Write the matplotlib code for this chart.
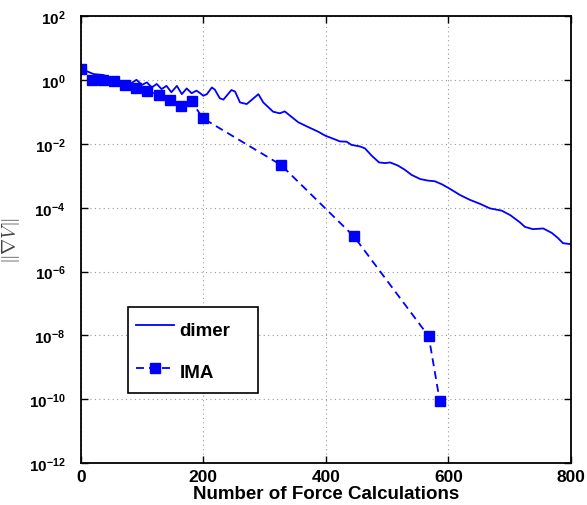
import numpy as np
import matplotlib
matplotlib.use('Agg')
import matplotlib.pyplot as plt
from matplotlib.ticker import FixedLocator, FuncFormatter, NullLocator

plt.rcParams['font.family'] = ['Liberation Sans', 'DejaVu Sans']
plt.rcParams['mathtext.fontset'] = 'custom'
plt.rcParams['mathtext.rm'] = 'Liberation Sans:bold'
plt.rcParams['mathtext.bf'] = 'Liberation Sans:bold'
plt.rcParams['mathtext.it'] = 'Liberation Sans:bold'

# dimer: force calls vs log10(|grad V|)
dimer_x = [1, 21, 37, 53, 70, 83, 91, 100, 108, 116, 124, 132, 140, 148, 157, 165,
           173, 181, 189, 195, 200, 206, 214, 219, 227, 233, 246, 252, 260, 271,
           279, 290, 298, 314, 325, 333, 342, 355, 369, 388, 399, 410, 423, 434,
           442, 456, 464, 475, 487, 497, 505, 518, 529, 540, 554, 567, 578, 589,
           602, 619, 635, 652, 668, 687, 701, 717, 725, 738, 755, 769, 779, 787, 800]
dimer_log = [0.35, 0.19, 0.16, 0.03, -0.05, -0.09, 0.01, -0.15, -0.07, -0.23, -0.12,
             -0.28, -0.18, -0.38, -0.18, -0.44, -0.26, -0.41, -0.33, -0.41, -0.49,
             -0.44, -0.23, -0.30, -0.57, -0.61, -0.31, -0.36, -0.70, -0.75, -0.62,
             -0.44, -0.70, -0.99, -1.04, -0.98, -1.12, -1.32, -1.45, -1.62, -1.74,
             -1.82, -1.92, -1.93, -2.03, -2.08, -2.14, -2.37, -2.58, -2.60, -2.58,
             -2.68, -2.81, -2.97, -3.10, -3.15, -3.17, -3.26, -3.40, -3.60, -3.75,
             -3.88, -4.02, -4.09, -4.23, -4.46, -4.60, -4.67, -4.65, -4.79, -4.95,
             -5.11, -5.14]

# IMA
ima_x = [1, 19, 37, 55, 73, 91, 109, 127, 145, 163, 181, 199, 327, 446, 568, 586]
ima_log = [0.35, 0.01, 0.0, -0.04, -0.15, -0.25, -0.33, -0.46, -0.61, -0.80, -0.66,
           -1.19, -2.66, -4.90, -8.03, -10.05]

fig = plt.figure(figsize=(5.87, 5.06), dpi=100)
ax = fig.add_axes([0.1375, 0.083, 0.835, 0.8828])

ax.semilogy(dimer_x, 10.0 ** np.array(dimer_log), color='#0000ff', lw=1.3, label='dimer')
ax.semilogy(ima_x, 10.0 ** np.array(ima_log), color='#0000ff', lw=1.3, ls=(0, (4.4, 2.8)),
            marker='s', ms=7.5, mec='#0000ff', mfc='#0000ff', label='IMA')

ax.set_xlim(0, 800)
ax.set_ylim(1e-12, 1e2)
ax.set_xticks([0, 200, 400, 600, 800])
ax.yaxis.set_major_locator(FixedLocator([10.0 ** e for e in range(-12, 3, 2)]))
ax.yaxis.set_minor_locator(NullLocator())
ax.yaxis.set_major_formatter(FuncFormatter(
    lambda v, p: r'$\mathbf{10^{%d}}$' % int(round(np.log10(v)))))

ax.grid(True, which='major', color='#999999', ls=(0, (1, 3)), lw=0.8)
ax.tick_params(direction='in', top=True, right=True, length=5, width=1)
ax.tick_params(axis='x', pad=4, labelsize=12.5)
ax.tick_params(axis='y', pad=11, labelsize=11)
for lab in ax.get_xticklabels():
    lab.set_fontweight('bold')
for s in ax.spines.values():
    s.set_linewidth(1.3)

ax.set_xlabel('Number of Force Calculations', fontsize=13.5, fontweight='bold', labelpad=1)
ax.set_ylabel(r'$\|\nabla V\|$', fontsize=14, color='#444444', math_fontfamily='cm')
ax.yaxis.set_label_coords(-0.12, 0.5)

leg = ax.legend(loc='lower left', bbox_to_anchor=(0.096, 0.156, 0.266, 0.204),
                mode='expand', borderaxespad=0, fancybox=False, framealpha=1,
                edgecolor='black', prop={'weight': 'bold', 'size': 13.5},
                handlelength=2.0, handleheight=1.85, labelspacing=0.82,
                borderpad=0.45, handletextpad=0.3)
leg.get_frame().set_linewidth(1.2)

fig.savefig('out.png', dpi=100)
